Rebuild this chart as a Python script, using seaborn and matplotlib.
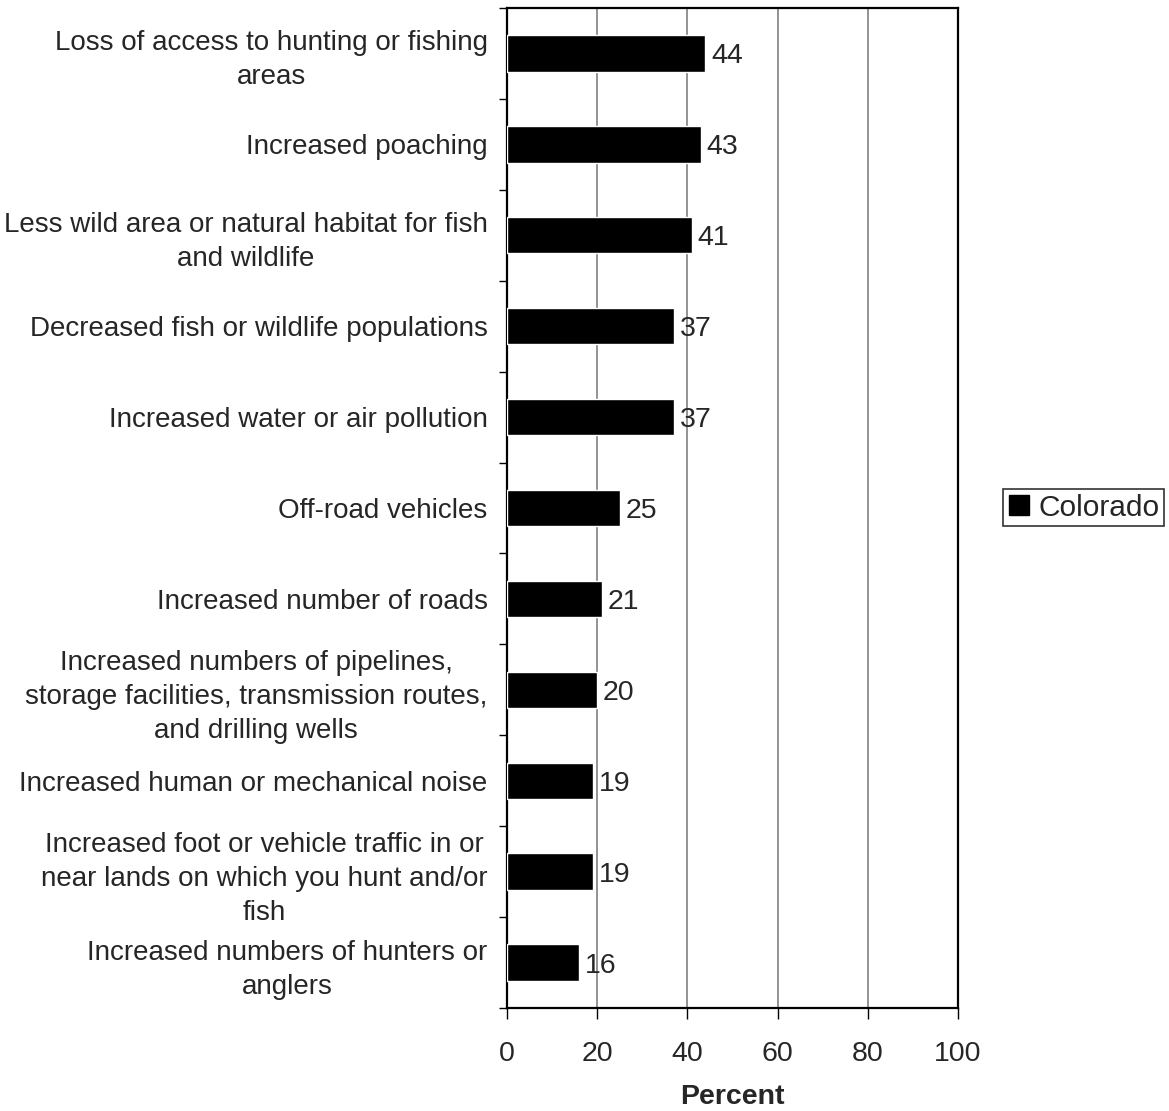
import matplotlib
matplotlib.use('Agg')
import matplotlib.pyplot as plt
from matplotlib.lines import Line2D
from matplotlib.ticker import FixedLocator
import seaborn as sns
import pandas as pd

# 항목 / 값
categories = [
    'Loss of access to hunting or fishing\nareas',
    'Increased poaching',
    'Less wild area or natural habitat for fish\nand wildlife',
    'Decreased fish or wildlife populations',
    'Increased water or air pollution',
    'Off-road vehicles',
    'Increased number of roads',
    'Increased numbers of pipelines,\nstorage facilities, transmission routes,\nand drilling wells',
    'Increased human or mechanical noise',
    'Increased foot or vehicle traffic in or\nnear lands on which you hunt and/or\nfish',
    'Increased numbers of hunters or\nanglers',
]
percent = [44, 43, 41, 37, 37, 25, 21, 20, 19, 19, 16]
series_name = 'Colorado'
x_ticks = [0, 20, 40, 60, 80, 100]

df = pd.DataFrame({'item': categories, 'pct': percent})

sns.set_style('white')
plt.rcParams['font.family'] = ['Liberation Sans', 'DejaVu Sans']

fig = plt.figure(figsize=(11.69, 11.11), dpi=100)
ax = fig.add_axes([0.4337, 0.0927, 0.3858, 0.9001])

sns.barplot(data=df, x='pct', y='item', orient='h', color='black',
            width=0.4, saturation=1, ax=ax, zorder=3)

# 값 라벨
for i, v in enumerate(percent):
    ax.text(v + 1.3, i, str(v), va='center_baseline', ha='left', fontsize=20.5, zorder=4)

ax.set_xlim(0, 100)
ax.set_ylim(len(categories) - 0.5, -0.5)
ax.set_xticks(x_ticks)
ax.set_xticklabels([str(t) for t in x_ticks], fontsize=20.5)
ax.set_xlabel('Percent', fontsize=20.5, fontweight='bold', labelpad=12)
ax.set_ylabel('')

# 세로 격자선
ax.grid(axis='x', color='#808080', linewidth=1.2, zorder=0)
ax.grid(axis='y', visible=False)

# y축 라벨: 가운데 정렬 (여러 줄)
ax.tick_params(axis='y', which='major', length=0, pad=14, labelsize=20)
for lab in ax.get_yticklabels():
    lab.set_multialignment('center')
    lab.set_linespacing(1.4)
ax.yaxis.set_minor_locator(FixedLocator([i - 0.5 for i in range(len(categories) + 1)]))
ax.tick_params(axis='y', which='minor', direction='out', length=6, width=1, color='black', left=True)
ax.tick_params(axis='x', which='major', direction='out', length=8, width=1, color='black',
               pad=16, bottom=True)

for s in ax.spines.values():
    s.set_visible(True)
    s.set_color('black')
    s.set_linewidth(1.6)

handle = Line2D([], [], marker='s', color='black', linestyle='none', markersize=15)
leg = fig.legend([handle], [series_name], loc='center left',
                 bbox_to_anchor=(0.858, 0.543), bbox_transform=fig.transFigure,
                 fontsize=21.5, frameon=True, fancybox=False, edgecolor='black',
                 handlelength=0.8, handletextpad=0.25, borderpad=0.15, borderaxespad=0)
leg.get_frame().set_linewidth(1.2)

fig.savefig('out.png', dpi=100, facecolor='white')
